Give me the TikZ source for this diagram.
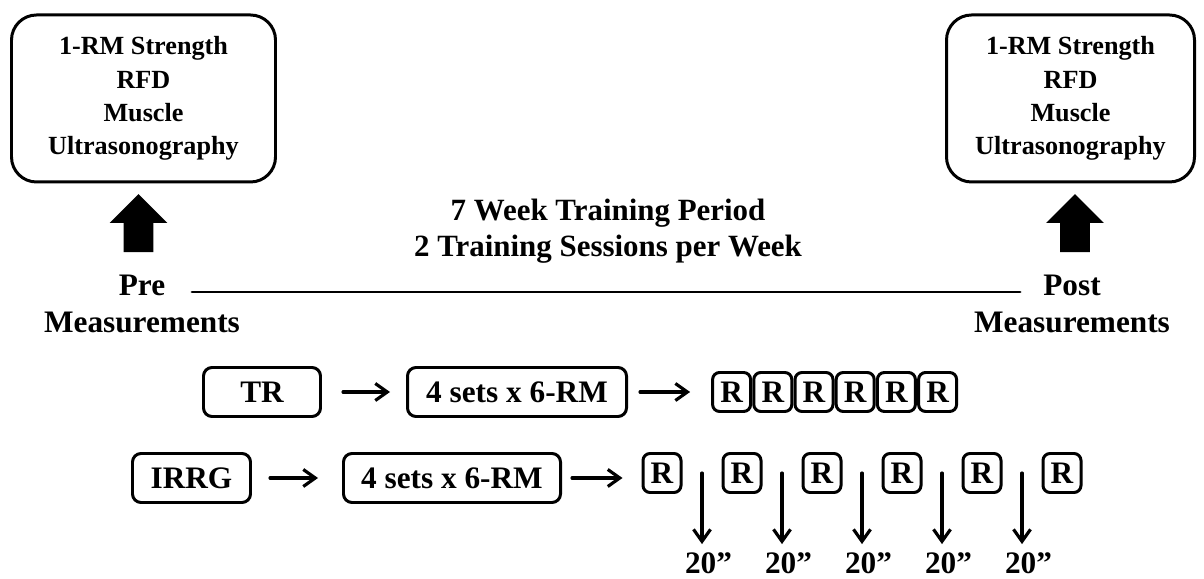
\documentclass[tikz,border=0pt]{standalone}
\usepackage{fontspec}
\setmainfont{Liberation Serif}
\usetikzlibrary{arrows.meta, positioning, shapes.arrows, calc}

\begin{document}
\begin{tikzpicture}[
  font=\fontsize{17.8}{21.5}\selectfont\bfseries, x=1cm, y=1cm,
  line cap=round, line join=round,
  meas/.style={draw=black, line width=1.7pt, rounded corners=0.5cm, align=center,
               font=\fontsize{14.9}{18.9}\selectfont\bfseries,
               minimum height=3.34cm, inner sep=0pt},
  box/.style={draw=black, line width=1.7pt, rounded corners=0.17cm,
              minimum height=0.98cm, inner sep=0pt},
  rep/.style={box, rounded corners=0.14cm, minimum width=0.76cm, minimum height=0.78cm},
  bigarr/.style={single arrow, fill=black, draw=none, rotate=90,
                 inner xsep=0pt, inner ysep=0.29cm,
                 minimum height=1.16cm, single arrow head extend=0.28cm},
  lbl/.style={align=center, inner sep=0pt},
  fl/.style={-{Straight Barb[length=2.4mm,width=3.4mm]}, line width=1.8pt},
]
\useasboundingbox (0,0) rectangle (24.08,11.58);

\node[meas, minimum width=5.28cm] (prebox)  at ( 2.87, 9.61) {1-RM Strength\\RFD\\Muscle\\Ultrasonography};
\node[meas, minimum width=4.96cm] (postbox) at (21.41, 9.61) {1-RM Strength\\RFD\\Muscle\\Ultrasonography};
\node[bigarr] (upl) at ( 2.77, 6.97) {};
\node[bigarr] (upr) at (21.50, 6.97) {};

\node[lbl] (pre)  at ( 2.84, 5.50) {Pre\\Measurements};
\node[lbl] (post) at (21.44, 5.50) {Post\\Measurements};
\node[lbl, font=\fontsize{17.6}{20.4}\selectfont\bfseries] (period) at (12.16, 6.96)
  {7 Week Training Period\\2 Training Sessions per Week};
\coordinate (ls) at ( 3.84, 5.74);
\coordinate (le) at (20.40, 5.74);
\draw[line width=1.7pt] (ls) -- (le);

\node[box, minimum width=2.34cm] (tr)   at ( 5.24, 3.74) {TR};
\node[box, minimum width=4.38cm] (set1) at (10.34, 3.74) {4 sets x 6-RM};
\foreach \i in {1,...,6}
  \node[rep] (r\i) at ({14.632+0.824*(\i-1)}, 3.74) {R};
\draw[fl, shorten <=0.42cm, shorten >=0.32cm] (tr) -- (set1);
\draw[fl, shorten <=0.24cm, shorten >=0.42cm] (set1) -- (r1);

\node[box, minimum width=2.36cm] (irrg) at ( 3.83, 2.02) {IRRG};
\node[box, minimum width=4.34cm] (set2) at ( 9.04, 2.02) {4 sets x 6-RM};
\foreach \i in {1,...,6}
  \node[rep] (q\i) at ({13.24+1.6*(\i-1)}, 2.12) {R};
\draw[fl, shorten <=0.36cm, shorten >=0.48cm] (irrg) -- (set2);
\draw[fl, shorten <=0.20cm, shorten >=0.38cm] (set2) -- (set2 -| q1.west);

\foreach \i [count=\j from 2] in {1,...,5} {
  \coordinate (t\i) at ($(q\i)!0.5!(q\j)$);
  \node[lbl] (w\i) at ($(t\i)+(0.13,-1.80)$) {20”};
  \draw[fl, shorten >=0.16cm] (t\i) -- (t\i |- w\i.north);
}
\end{tikzpicture}
\end{document}
